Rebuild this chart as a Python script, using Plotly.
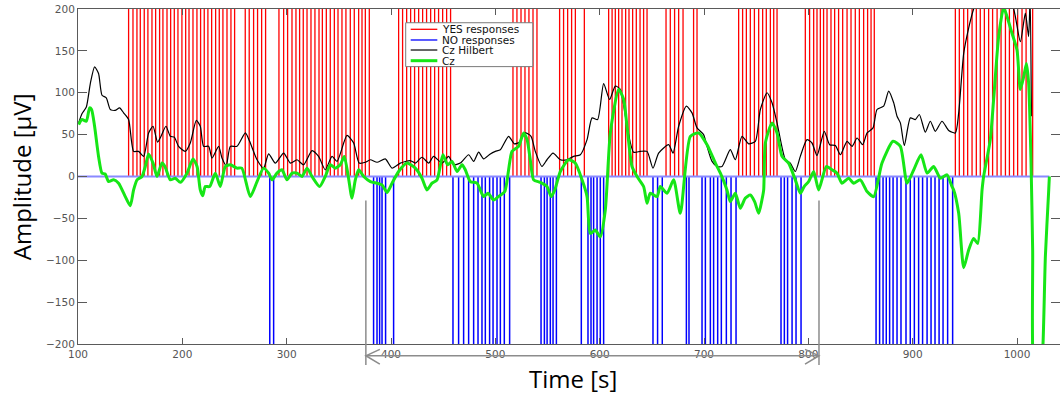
import plotly.graph_objects as go

# ---- event times (s) ----
yes_times = [
    148.5, 152.7, 156.5, 159.7, 163.5, 167.0, 170.9, 174.4, 178.2, 181.4,
    185.3, 188.8, 192.3, 195.8, 199.6, 203.2, 206.4, 210.2, 214.0, 217.5,
    221.0, 224.5, 228.1, 231.9, 235.4, 238.9, 242.8, 246.6, 250.1,
    260.3, 264.1, 268.3, 272.1, 276.0, 279.8,
    292.6, 297.1, 300.9, 305.1, 308.9, 312.4, 315.9, 319.5, 323.3, 327.1,
    331.0, 334.2, 338.0, 341.8, 345.7, 349.2, 353.0, 356.8, 361.0, 364.8,
    369.0, 372.2, 375.4, 379.2,
    407.3, 411.1, 415.0, 418.8, 422.6, 426.5, 430.3, 434.1, 438.0, 441.8,
    445.6, 449.5, 453.3, 457.1,
    516.9, 520.7, 524.6, 528.4, 532.2, 536.1, 539.9,
    561.6, 565.4, 569.3, 573.1, 576.7,
    585.3,
    608.6, 611.9, 615.0, 618.2, 621.4, 624.9, 628.1, 631.6, 635.1, 638.7,
    642.1, 645.4,
    663.6, 667.7, 671.8, 675.7, 679.9,
    690.0, 693.3,
    733.2, 737.0, 740.6, 744.4, 748.3, 752.4, 756.2, 759.7, 763.6, 766.8, 770.0,
    797.1, 801.2, 805.1, 808.3, 811.5, 814.6, 817.9, 821.7, 825.2, 829.0,
    832.9, 837.1, 840.9, 845.0, 848.9, 853.0, 856.8, 860.1, 863.2,
    940.9, 944.7, 948.9, 952.7, 956.9, 961.0, 964.8, 968.7, 972.8, 976.6,
    980.9, 984.7, 988.9, 992.7, 996.8, 1000.6, 1004.8, 1008.7, 1015.0,
]

no_times = [
    283.8, 287.5,
    383.3, 386.6, 389.1, 391.4, 394.8, 402.5,
    459.4, 464.8, 469.6, 474.4, 479.2, 483.4, 487.2, 490.4, 494.5, 497.8,
    501.6, 504.8, 508.6, 513.7,
    543.8, 547.0, 549.6, 552.7, 555.3, 558.5,
    582.4, 588.8, 591.7, 594.2, 597.5, 600.6, 603.8,
    651.1, 655.5, 660.0,
    683.1, 685.6,
    698.1, 701.3, 706.1, 709.2, 713.1, 716.6, 721.4, 725.9, 730.7,
    773.8, 777.0, 780.1, 784.4, 788.2, 793.0,
    864.9, 868.3, 871.6, 874.7, 877.9, 881.2, 885.0, 888.8, 893.6, 897.7,
    901.6, 905.7, 909.5, 913.8, 917.6, 921.4, 925.3, 929.1, 933.5, 938.3,
]

# ---- Cz Hilbert envelope ----
hilbert_t = [
    100.6, 103.8, 108, 111.8, 115.9, 119.7, 123, 127.1, 131, 135.6, 139.9,
    143.7, 148.5, 153.3, 158.1, 162.9, 167.7, 171.9, 176.3, 179.6, 184.3,
    188.5, 192.3, 196.4, 202.8, 207.6, 213.4, 217.2, 220.4, 225.2, 228.4,
    234.8, 238.0, 242.1, 246, 252.4, 260.4, 264.5, 271.6, 277.9, 282.7,
    289.1, 297.1, 303.5, 309.9, 316.2, 324.3, 330.6, 337, 343.5, 348.3,
    357.8, 364.2, 369.5, 375.4, 380.2, 386.6, 394.5, 401, 408.9, 418.5,
    423.3, 429.7, 436.1, 440.8, 448.9, 455.2, 460, 466.4, 474.4, 479.2,
    484.0, 488.8, 495.2, 500, 504.8, 512.7, 518.2, 523, 528.7, 534.2,
    538.3, 544.7, 549.5, 555.3, 562.3, 568.7, 575, 581.5, 587.9, 592.7,
    598, 603.8, 609.5, 615, 619.8, 626.2, 632.5, 639, 645.4, 651.1,
    656.5, 666.1, 670.3, 675.7, 683.1, 688.5, 693.3, 699.6, 702.9, 707.7,
    712.5, 717.3, 725.2, 730, 736.4, 742.8, 749.2, 754, 760.4, 765.2,
    770, 778, 782.7, 787.5, 792.3, 798.7, 803.5, 808.3, 815.3, 820.4,
    825.9, 830.7, 837.1, 841.9, 846.7, 852, 856.3, 862, 865.8, 872.2,
    877, 881.8, 885, 888.2, 892, 897.8, 902.5, 906.4, 912.1, 916.9,
    921.7, 928.1, 934.5, 940.9, 944.1, 948.9, 953.6, 958.4, 966, 976,
    986, 996.8, 1003.2, 1008, 1011.1, 1012.6, 1013.8,
]
hilbert_v = [
    64, 75, 83, 111, 131, 123, 97, 94, 80, 79, 82,
    76, 68, 30, 30, 24, 52, 60, 41, 48, 60,
    48, 47, 36, 30, 40, 67, 60, 36, 36, 22,
    36, 22, 13, 36, 36, 52, 42, 20, 10, 27,
    16, 28, 16, 20, 14, 31, 24, 8, 24, 18,
    49, 40, 16, 17, 20, 17, 21, 10, 16, 19,
    16, 23, 16, 24, 16, 24, 14, 16, 26, 18,
    29, 21, 27, 30, 32, 48, 39, 41, 52, 48,
    30, 12, 20, 28, 20, 20, 24, 26, 44, 70,
    68, 111, 92, 108, 104, 60, 29, 30, 30, 10,
    28, 38, 28, 60, 84, 76, 58, 50, 36, 18,
    12, 12, 32, 20, 48, 39, 42, 80, 100, 88,
    64, 20, 16, 6, 24, 44, 40, 25, 54, 38,
    37, 26, 42, 36, 46, 38, 52, 58, 80, 84,
    102, 88, 72, 64, 37, 70, 68, 74, 53, 66,
    54, 66, 55, 52, 76, 147, 177, 200, 225, 240,
    228, 200, 161, 195, 167, 215, 72,
]

# ---- Cz signal ----
cz_t = [
    100.6, 103.8, 108, 111.1, 113, 115.9, 119.7, 123, 126, 129.3, 134.1,
    138.9, 145.3, 150.1, 153.3, 156.6, 161.3, 164.5, 167.7, 171.9, 175.7,
    180.5, 183.3, 188.5, 193.3, 198.1, 204.5, 210.2, 214.1, 217.2, 219.5,
    222, 226.2, 231.6, 236.4, 241.2, 246, 252.4, 257, 265.1, 271.6,
    277.9, 282.7, 286, 290.7, 295.5, 300.3, 305.1, 309.9, 314.7, 319.5,
    324.3, 331.6, 337, 341.8, 346.6, 351.4, 355.2, 359.3, 362.6, 365.8,
    369, 373.8, 380.2, 386.6, 391.4, 396.2, 401, 407.3, 415.3, 423.3,
    429.7, 434.5, 439.3, 444.1, 449.8, 454.3, 458.5, 463.3, 468.1, 471.2,
    476, 482.4, 488.8, 493, 498.4, 503, 509, 516, 522.3, 527.1,
    530.4, 533.5, 536.7, 543.1, 549.5, 553.5, 557, 562.3, 570.2, 576.6,
    583.1, 587.9, 591, 595.8, 600.6, 605.4, 610.2, 618.2, 623, 626.2,
    631, 635.8, 642.1, 645.4, 648.5, 655, 658.1, 664.6, 670.9, 677.3,
    686.9, 694.8, 702.9, 710.9, 715.7, 722, 725.2, 730, 734.8, 739.5,
    744.4, 748.5, 752.4, 755.5, 757.2, 758.8, 765.2, 770, 774.8, 781.1,
    787.5, 792.3, 796, 800.3, 805.1, 809.9, 817.3, 822.7, 827.5, 832.3,
    838.6, 843.4, 849.8, 856.3, 862.6, 870.6, 881.2, 888.2, 894.6, 901,
    908, 913.8, 920.1, 926.5, 932.9, 937.7, 939.3, 944.1, 948.9, 953.6,
    958.4, 962.3, 966.5, 968, 974.4, 977.6, 982.4, 987.2, 990.4, 995.2,
    1000, 1003.2, 1006.4, 1009, 1011.1, 1013.4, 1015, 1016.5, 1022, 1024.9,
    1027.2, 1030.4, 1031,
]
cz_v = [
    62, 68, 66, 82, 80, 60, 24, 4, 3, -6, -4,
    -8, -24, -35, -16, -4, 0, 12, 27, 16, 0,
    16, 12, -4, -2, -7, 4, 21, 12, -16, -23,
    -12, -12, 4, -12, 12, 14, 10, 10, -24, -6,
    10, 4, -4, 4, 8, -4, 4, 4, 0, 10,
    0, -12, 0, 14, 10, 14, 24, -2, -26, -4,
    8, 0, -6, -8, -10, -19, -8, 6, 16, 10,
    -2, -16, -8, -4, 26, 14, 18, 6, 14, 8,
    -6, -8, -24, -20, -28, -24, -18, 30, 36, 52,
    44, 20, -4, -7, -12, -24, -16, 6, 20, 16,
    -4, -24, -68, -64, -72, -40, 52, 104, 92, 60,
    12, 0, -12, -32, -20, -24, -12, -20, -4, -44,
    48, 52, 38, 16, 4, -16, -30, -20, -38, -26,
    -22, -30, -44, -28, -16, 40, 64, 52, 24, 16,
    -4, -20, -12, -6, 6, -16, 12, 8, 4, -8,
    -2, -8, -4, -18, -24, 16, 42, 36, -8, 8,
    26, 4, 12, -2, 2, -12, -16, -44, -109, -88,
    -74, -80, -16, 0, 44, 92, 167, 202, 191, 171,
    151, 104, 119, 135, 112, 20, -88, -240, -250, -200,
    -95, -16, 0,
]

# ---- axes ----
x_range = [100, 1041.2]
y_range = [-200, 200]
x_ticks = [100, 200, 300, 400, 500, 600, 700, 800, 900, 1000]
y_ticks = [-200, -150, -100, -50, 0, 50, 100, 150, 200]

# time span marked below the axis
span_start, span_end = 375.9, 810.2

# legend labels
legend_labels = ["YES responses", "NO responses", "Cz Hilbert", "Cz"]

RED = "#ff0000"
BLUE = "#0000ff"
BLACK = "#000000"
GREEN = "#16e616"
AXIS = "#5a5a5a"


def stems(times, top):
    xs, ys = [], []
    for t in times:
        xs += [t, t, None]
        ys += [0, top, None]
    return xs, ys


fig = go.Figure()

yx, yy = stems(yes_times, y_range[1])
fig.add_trace(go.Scatter(x=yx, y=yy, mode="lines", name=legend_labels[0],
                         line=dict(color=RED, width=1.3), hoverinfo="skip"))
nx, ny = stems(no_times, y_range[0])
fig.add_trace(go.Scatter(x=nx, y=ny, mode="lines", name=legend_labels[1],
                         line=dict(color=BLUE, width=1.5), hoverinfo="skip"))
# zero baseline of the response stems
fig.add_trace(go.Scatter(x=[x_range[0], cz_t[-1]], y=[0, 0], mode="lines",
                         line=dict(color="#8a8aff", width=2), hoverinfo="skip"))
fig.add_trace(go.Scatter(x=hilbert_t, y=hilbert_v, mode="lines", name=legend_labels[2],
                         line=dict(color=BLACK, width=1.2, shape="spline", smoothing=0.6)))
fig.add_trace(go.Scatter(x=cz_t, y=cz_v, mode="lines", name=legend_labels[3],
                         line=dict(color=GREEN, width=3, shape="spline", smoothing=0.6)))

axis_common = dict(
    showgrid=False, zeroline=False, showline=True, linecolor=AXIS, linewidth=1,
    ticks="inside", tickcolor=AXIS, mirror="allticks",
    tickfont=dict(family="DejaVu Sans", size=10.5, color="#555555"),
)
fig.update_xaxes(range=x_range, tickvals=x_ticks, ticklen=6, **axis_common)
fig.update_yaxes(range=y_range, tickvals=y_ticks, ticklen=9, **axis_common)

shapes = []
annotations = []

# span arrow under the time axis
line_style = dict(color="#8c8c8c", width=1.5)
for xs in (span_start, span_end):
    shapes.append(dict(type="line", xref="x", yref="paper", x0=xs, x1=xs,
                       y0=0.428, y1=-0.063, line=line_style, layer="above"))
shapes.append(dict(type="line", xref="x", yref="paper", x0=span_start, x1=span_end,
                   y0=-0.035, y1=-0.035, line=line_style, layer="above"))
head = 13.4
shapes.append(dict(type="path", xref="x", yref="paper",
                   path=f"M {span_start + head},-0.016 L {span_start},-0.035 L {span_start + head},-0.060",
                   line=line_style, layer="above"))
shapes.append(dict(type="path", xref="x", yref="paper",
                   path=f"M {span_end - head},-0.016 L {span_end},-0.035 L {span_end - head},-0.060",
                   line=line_style, layer="above"))

# legend box
shapes.append(dict(type="rect", xref="paper", yref="paper", x0=0.3337, x1=0.4631,
                   y0=0.828, y1=0.959, fillcolor="white",
                   line=dict(color="#7a7a7a", width=1), layer="above"))
legend_colors = [RED, BLUE, BLACK, GREEN]
legend_widths = [1.3, 1.3, 1.2, 3]
legend_rows = [0.9394, 0.9075, 0.8776, 0.8457]
for label, col, w, ry in zip(legend_labels, legend_colors, legend_widths, legend_rows):
    shapes.append(dict(type="line", xref="paper", yref="paper", x0=0.3388, x1=0.3659,
                       y0=ry, y1=ry, line=dict(color=col, width=w), layer="above"))
    annotations.append(dict(text=label, xref="paper", yref="paper", x=0.3686, y=ry,
                            xanchor="left", yanchor="middle", showarrow=False,
                            font=dict(family="DejaVu Sans", size=10.5, color="#111111")))

# axis titles
annotations.append(dict(text="Time [s]", xref="paper", yref="paper", x=0.504, y=-0.1015,
                        xanchor="center", yanchor="middle", showarrow=False,
                        font=dict(family="Open Sans", size=24, color="#000000")))
annotations.append(dict(text="Amplitude [µV]", xref="paper", yref="paper", x=-0.0573, y=0.5,
                        xanchor="center", yanchor="middle", showarrow=False, textangle=-90,
                        font=dict(family="Open Sans", size=24, color="#000000")))

fig.update_layout(
    width=1060, height=394,
    margin=dict(l=78, r=0, t=9, b=50),
    paper_bgcolor="white", plot_bgcolor="white",
    showlegend=False,
    shapes=shapes, annotations=annotations,
)

fig.write_html("out.html")
